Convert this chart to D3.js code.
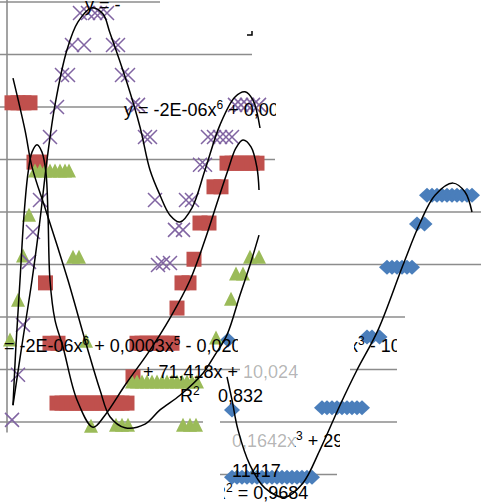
<!DOCTYPE html>
<html>
<head>
<meta charset="utf-8">
<script src="https://cdn.jsdelivr.net/npm/d3@7"></script>
<style>
  body { margin: 0; background: #fff; }
  svg { display: block; }
  text { white-space: pre; }
</style>
</head>
<body>
<div id="chart"></div>
<script>
// value axis ticks (gridlines)
const yTicks = [-1, 0, 1, 2, 3, 4, 5, 6, 7, 8];

// series 1 - blue diamonds
const blueX = [44.2, 45,
    63, 64, 65, 66, 67, 68, 69, 70, 71,
    45, 46, 47, 48, 49, 50, 51, 52, 53, 54, 55, 56, 57, 58, 59, 60, 61,
    72, 73, 74.5,
    76, 77, 78, 79, 80, 81,
    82, 83.5,
    84, 85, 86, 87, 88, 89, 90, 91, 92, 93];
const blueY = [1.56, 0.23,
    0.27, 0.27, 0.27, 0.27, 0.27, 0.27, 0.27, 0.27, 0.27,
    -1.05, -1.05, -1.05, -1.05, -1.05, -1.05, -1.05, -1.05, -1.05, -1.05, -1.05, -1.05, -1.05, -1.05, -1.05, -1.05, -1.05,
    1.62, 1.62, 1.62,
    2.95, 2.95, 2.95, 2.95, 2.95, 2.95,
    3.77, 3.77,
    4.32, 4.32, 4.32, 4.32, 4.32, 4.32, 4.32, 4.32, 4.32, 4.32];

// series 2 - red squares
const redX = [1, 2.2, 3.4, 4.6,
    5.4, 6.6,
    7.7,
    8.6, 10.2,
    26, 27, 28, 29, 30, 31, 32, 33,
    25.2,
    10, 11, 12, 13, 14, 15, 16, 17, 18, 19, 20, 21, 22, 23, 24,
    34,
    35, 36.4,
    37.4,
    38.6, 40.4,
    41.4, 42.8,
    44, 45, 46, 47, 48, 49, 50];
const redY = [6.08, 6.08, 6.08, 6.08,
    4.95, 4.95,
    2.65,
    1.5, 1.5,
    1.5, 1.5, 1.5, 1.5, 1.5, 1.5, 1.5, 1.5,
    0.86,
    0.36, 0.36, 0.36, 0.36, 0.36, 0.36, 0.36, 0.36, 0.36, 0.36, 0.36, 0.36, 0.36, 0.36, 0.36,
    2.17,
    2.65, 2.65,
    3.1,
    3.79, 3.79,
    4.48, 4.48,
    4.93, 4.93, 4.93, 4.93, 4.93, 4.93, 4.93];

// series 3 - green triangles
const greenX = [5.6, 6.6, 7.6, 8.6, 9.6, 10.6, 11.6, 12.4,
    4.4, 3.2, 13.2, 14.4, 2.2, 0.6, 15.8, 16.8,
    21.8, 23, 24.2,
    35.2, 36.6, 37.8,
    25, 26, 27, 28, 29, 30, 31, 32, 33, 34, 35, 36, 37, 38,
    44.8, 45.8, 47.2, 48.6, 50.4, 41.8];
const greenY = [4.78, 4.78, 4.78, 4.78, 4.78, 4.78, 4.78, 4.78,
    3.94, 3.16, 3.14, 3.14, 2.32, 1.56, 1.54, -0.08,
    -0.06, -0.06, -0.06,
    -0.06, -0.06, -0.06,
    0.76, 0.76, 0.76, 0.76, 0.76, 0.76, 0.76, 0.76, 0.76, 0.76, 0.76, 0.76, 0.76, 0.76,
    2.34, 2.82, 2.82, 3.14, 3.14, 1.6];

// series 4 - purple crosses
const purpleX = [14.6, 16.2, 17.6, 18.6, 20,
    13, 15.4, 21.2, 22.2,
    11, 12.2, 23, 24.2,
    10, 25.2, 26.2,
    8.6, 27.6, 28.6,
    6.6, 5.2, 4.4, 3.2, 2.2, 1,
    29.6, 35.8, 37,
    30.2, 31.2, 32.6,
    33.6, 35.2,
    38.6, 39.6,
    40.2, 41.4, 42.6, 43.8, 45,
    45.6, 46.8, 48, 49.2, 50.4];
const purpleY = [7.79, 7.79, 7.79, 7.79, 7.79,
    7.18, 7.18, 7.18, 7.18,
    6.61, 6.61, 6.61, 6.61,
    6.0, 6.04, 6.04,
    5.43, 5.43, 5.43,
    4.23, 3.62, 3.05, 1.85, 0.9, 0.04,
    4.23, 4.23, 4.23,
    2.99, 3.03, 3.03,
    3.66, 3.66,
    4.9, 4.9,
    5.43, 5.43, 5.43, 5.43, 5.43,
    6.04, 6.04, 6.04, 6.04, 6.04];

// polynomial trendlines
const blueTrendX = [44, 45, 46.2, 48.6, 51.6, 55.6, 59.2, 62.6, 66.6, 70, 74.2, 79.2, 82.6, 85.6, 89.2, 91.6, 93];
const blueTrendY = [0.86, 0.42, -0.15, -0.82, -1.26, -1.43, -1.16, -0.53, 0.32, 0.99, 1.75, 2.99, 3.79, 4.32, 4.55, 4.38, 4.0];
const redTrendX = [1.2, 1.8, 2.6, 3.4, 4.2, 5, 6, 7, 7.8, 8.2, 8.6, 9.6, 11.2, 14, 17.2, 19.6, 23.6, 28.6, 32.6, 36.6, 39.6, 42.2, 44.2, 45.8, 47.2, 48.8, 50, 50.4];
const redTrendY = [0.32, 1.47, 2.7, 3.94, 4.74, 5.14, 5.28, 5.14, 4.74, 3.94, 2.7, 1.94, 1.43, 0.42, -0.1, 0.13, 0.7, 1.37, 1.98, 2.7, 3.47, 4.23, 4.8, 5.22, 5.37, 5.24, 4.84, 4.42];
const greenTrendX = [1.2, 3.6, 5, 7.6, 10, 12.2, 16, 18.6, 20.6, 23.6, 27.6, 30.6, 34.6, 39.2, 41.6, 44, 46.6, 48.6, 50.4];
const greenTrendY = [6.55, 5.56, 4.86, 4.08, 3.37, 2.7, 1.43, 0.61, 0.1, -0.11, -0.04, 0.23, 0.51, 0.93, 1.28, 1.66, 2.42, 2.99, 3.56];
const purpleTrendX = [1.2, 3, 5, 6.6, 8, 9.6, 12, 14.2, 17, 19.2, 20.6, 24, 26.6, 28.6, 30.6, 32.6, 34.6, 37, 39.6, 42.6, 45.6, 47.6, 49.2, 50.6];
const purpleTrendY = [0.32, 1.47, 2.7, 3.85, 4.99, 6.04, 7.09, 7.62, 7.89, 7.77, 7.41, 6.46, 5.62, 4.8, 4.32, 3.94, 3.81, 4.08, 4.8, 5.66, 6.19, 6.29, 6.13, 5.6];

// trendline equation texts (partly hidden in the picture)
const eqTexts = [
    "y = -",
    "y = -2E-06x^6 + 0,0003x^5 - 0,0207x^4",
    "= -2E-06x^6 + 0,0003x^5 - 0,0207x^4",
    "x^3 - 10",
    "+ 71,418x + 10,024",
    "R^2",
    "0,832",
    "0,1642x^3 + 29",
    "11417",
    "R^2 = 0,9684"
];

// ---- layout ----
const W = 481, H = 502;
const gridColor = "#8c8c8c";
const colors = { blue: "#4a7ebb", red: "#c0504d", green: "#9bbb59", purple: "#8064a2" };

const svg = d3.select("#chart").append("svg")
    .attr("width", W)
    .attr("height", H);

const x = d3.scaleLinear().domain([0, 95]).range([7, 482]);
const y = d3.scaleLinear().domain([0, 8]).range([422, 2]);

// visible pieces of each gridline (the rest is covered in the picture)
const gridPieces = {
    "8": [[0, 160]], "7": [[0, 252]], "6": [[0, 127]], "5": [[0, 275]],
    "4": [[0, 481]], "3": [[0, 481]], "2": [[0, 405]],
    "1": [[0, 240], [350, 397]], "0": [[0, 203], [220, 397]], "-1": [[220, 337]]
};

const grid = svg.append("g");
yTicks.forEach(t => {
    gridPieces[t].forEach(seg => {
        grid.append("line")
            .attr("x1", seg[0]).attr("x2", seg[1])
            .attr("y1", y(t)).attr("y2", y(t))
            .attr("stroke", gridColor)
            .attr("stroke-width", 1.6);
    });
});

svg.append("line")
    .attr("x1", x(0)).attr("x2", x(0))
    .attr("y1", 0).attr("y2", y(-0.2))
    .attr("stroke", gridColor)
    .attr("stroke-width", 1.6);

svg.append("path")
    .attr("d", "M247,35 L252,35 L252,31")
    .attr("fill", "none")
    .attr("stroke", "#000")
    .attr("stroke-width", 1.5);

// markers
const pts = (xs, ys) => xs.map((v, i) => ({ x: v, y: ys[i] }));

svg.append("g").selectAll("path")
    .data(pts(blueX, blueY))
    .enter().append("path")
    .attr("transform", d => `translate(${x(d.x)},${y(d.y)})`)
    .attr("d", "M0,-7.5L8,0L0,7.5L-8,0Z")
    .attr("fill", colors.blue);

svg.append("g").selectAll("rect")
    .data(pts(redX, redY))
    .enter().append("rect")
    .attr("x", d => x(d.x) - 7.5)
    .attr("y", d => y(d.y) - 7.5)
    .attr("width", 15)
    .attr("height", 15)
    .attr("fill", colors.red);

svg.append("g").selectAll("path")
    .data(pts(greenX, greenY))
    .enter().append("path")
    .attr("transform", d => `translate(${x(d.x)},${y(d.y)})`)
    .attr("d", "M0,-7.5L7,6.5L-7,6.5Z")
    .attr("fill", colors.green);

svg.append("g").selectAll("path")
    .data(pts(purpleX, purpleY))
    .enter().append("path")
    .attr("transform", d => `translate(${x(d.x)},${y(d.y)})`)
    .attr("d", "M-7,-7L7,7M-7,7L7,-7")
    .attr("stroke", colors.purple)
    .attr("stroke-width", 1.5);

// trendlines
const line = d3.line()
    .x(d => x(d.x))
    .y(d => y(d.y))
    .curve(d3.curveCatmullRom.alpha(0.5));

[[blueTrendX, blueTrendY], [redTrendX, redTrendY], [greenTrendX, greenTrendY], [purpleTrendX, purpleTrendY]]
    .forEach(([xs, ys]) => {
        svg.append("path")
            .datum(pts(xs, ys))
            .attr("d", line)
            .attr("fill", "none")
            .attr("stroke", "#000")
            .attr("stroke-width", 1.5);
    });

// equation labels
const defs = svg.append("defs");
let clipN = 0;
function clipRect(x0, y0, x1, y1) {
    const id = "clip" + (clipN++);
    defs.append("clipPath").attr("id", id)
        .append("rect").attr("x", x0).attr("y", y0)
        .attr("width", x1 - x0).attr("height", y1 - y0);
    return "url(#" + id + ")";
}

function addEq(str, px, py, clip, opacity) {
    const t = svg.append("text")
        .attr("x", px).attr("y", py)
        .style("font-family", "'Liberation Sans', Arial, sans-serif")
        .style("font-size", "18px")
        .attr("fill", "#000");
    if (clip) t.attr("clip-path", clip);
    if (opacity) t.attr("fill-opacity", opacity);
    const parts = str.split(/\^(\d)/);
    let shift = 0;
    parts.forEach((p, i) => {
        if (!p) return;
        const s = t.append("tspan").text(p);
        if (i % 2 === 1) {
            s.attr("dy", -7).style("font-size", "12px");
            shift = 7;
        } else {
            s.attr("dy", shift);
            shift = 0;
        }
    });
}

addEq(eqTexts[0], 85, 11);
addEq(eqTexts[1], 124, 116, clipRect(120, 90, 276, 130));
addEq(eqTexts[2], 4, 352, clipRect(0, 325, 238, 360));
addEq(eqTexts[3], 349, 352, clipRect(354, 325, 397, 360));
addEq(eqTexts[4], 143, 378, clipRect(130, 355, 240, 385));
addEq(eqTexts[4], 143, 378, clipRect(240, 355, 300, 385), 0.3);
addEq(eqTexts[5], 180, 402);
addEq(eqTexts[6], 218, 402);
addEq(eqTexts[7], 232, 447, clipRect(295, 420, 340, 455));
addEq(eqTexts[7], 232, 447, clipRect(225, 420, 295, 455), 0.3);
addEq(eqTexts[8], 232, 477);
addEq(eqTexts[9], 213, 499, clipRect(224, 470, 340, 502));
</script>
</body>
</html>
